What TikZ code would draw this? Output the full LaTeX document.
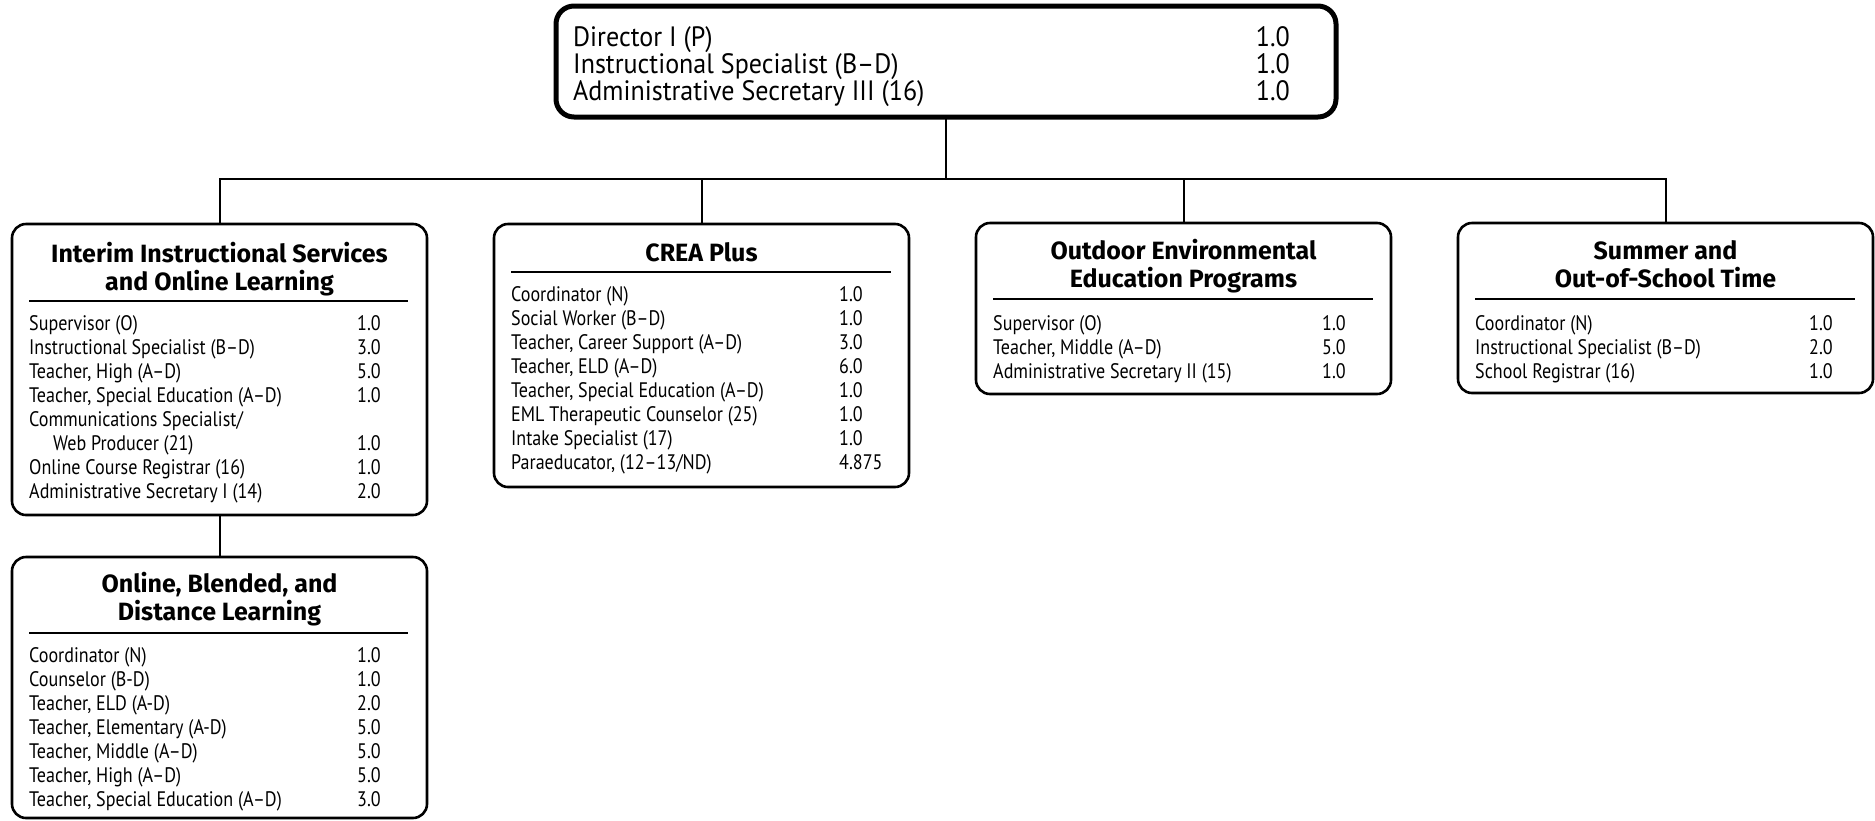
\documentclass[tikz,border=0pt]{standalone}
\usepackage{fontspec}
\newfontfamily\bodyfont{PT Sans}[FakeStretch=0.86]
\newfontfamily\titlefont{Fira Sans}[FakeStretch=1.0]
\newfontfamily\topfont{PT Sans}[FakeStretch=0.93]
\newcommand{\staffrow}[6]{%
  \node[body] (#1) at (#2,#4) {#5};
  \node[body] (#1n) at (#3,#4) {#6};}
\begin{document}
\begin{tikzpicture}[x=1pt,y=-1pt,
  unitbox/.style={draw=black, line width=2.6pt, rounded corners=14pt, minimum width=415pt, anchor=north west, inner sep=0pt, outer sep=0pt},
  headbox/.style={draw=black, line width=5pt, rounded corners=18pt, minimum width=780pt, minimum height=111pt, anchor=north west, inner sep=0pt, outer sep=0pt},
  body/.style={anchor=base west, inner sep=0pt, font=\bodyfont\fontsize{21}{24}\selectfont},
  title/.style={anchor=base, inner sep=0pt, font=\titlefont\bfseries\fontsize{25}{28}\selectfont},
  toptext/.style={anchor=base west, inner sep=0pt, font=\topfont\fontsize{28}{27}\selectfont},
  topnum/.style={toptext, anchor=base east},
  rule/.style={line width=1.4pt},
  link/.style={line width=2pt}]
\useasboundingbox (0,0) rectangle (1875,820);
% boxes
\node[headbox] (top) at (556,6) {};
\node[unitbox, minimum height=291pt] (b1) at (12,224) {};
\node[unitbox, minimum height=263pt] (b2) at (494,224) {};
\node[unitbox, minimum height=171pt] (b3) at (976,223) {};
\node[unitbox, minimum height=170pt] (b4) at (1458,223) {};
\node[unitbox, minimum height=261pt] (b5) at (12,557) {};
% connectors
\coordinate (bus) at (946,179);
\draw[link] (top.south) -- (top.south |- bus);
\draw[link] (b1.north) -- (b1.north |- bus) -- (b4.north |- bus) -- (b4.north);
\draw[link] (b2.north) -- (b2.north |- bus);
\draw[link] (b3.north) -- (b3.north |- bus);
\draw[link] (b1.south) -- (b5.north);
% top box text
\node[toptext] (t1) at (573,46) {Director I (P)};
\node[topnum] (t1n) at (1290,46) {1.0};
\node[toptext] (t2) at (573,73) {Instructional Specialist (B–D)};
\node[topnum] (t2n) at (1290,73) {1.0};
\node[toptext] (t3) at (573,100) {Administrative Secretary III (16)};
\node[topnum] (t3n) at (1290,100) {1.0};
% box 1
\node[title] (b1h1) at (219.5,262) {Interim Instructional Services};
\node[title] (b1h2) at (219.5,290) {and Online Learning};
\draw[rule] (29,301) -- (408,301);
\staffrow{b1r1}{29}{357}{330}{Supervisor (O)}{1.0}
\staffrow{b1r2}{29}{357}{354}{Instructional Specialist (B–D)}{3.0}
\staffrow{b1r3}{29}{357}{378}{Teacher, High (A–D)}{5.0}
\staffrow{b1r4}{29}{357}{402}{Teacher, Special Education (A–D)}{1.0}
\node[body] (b1r5) at (29,426) {Communications Specialist/};
\staffrow{b1r6}{53}{357}{450}{Web Producer (21)}{1.0}
\staffrow{b1r7}{29}{357}{474}{Online Course Registrar (16)}{1.0}
\staffrow{b1r8}{29}{357}{498}{Administrative Secretary I (14)}{2.0}
% box 2
\node[title] (b2h1) at (701.5,261) {CREA Plus};
\draw[rule] (511,272) -- (891,272);
\staffrow{b2r1}{511}{839}{301}{Coordinator (N)}{1.0}
\staffrow{b2r2}{511}{839}{325}{Social Worker (B–D)}{1.0}
\staffrow{b2r3}{511}{839}{349}{Teacher, Career Support (A–D)}{3.0}
\staffrow{b2r4}{511}{839}{373}{Teacher, ELD (A–D)}{6.0}
\staffrow{b2r5}{511}{839}{397}{Teacher, Special Education (A–D)}{1.0}
\staffrow{b2r6}{511}{839}{421}{EML Therapeutic Counselor (25)}{1.0}
\staffrow{b2r7}{511}{839}{445}{Intake Specialist (17)}{1.0}
\staffrow{b2r8}{511}{839}{469}{Paraeducator, (12–13/ND)}{4.875}
% box 3
\node[title] (b3h1) at (1183.5,259) {Outdoor Environmental};
\node[title] (b3h2) at (1183.5,287) {Education Programs};
\draw[rule] (993,299) -- (1373,299);
\staffrow{b3r1}{993}{1322}{330}{Supervisor (O)}{1.0}
\staffrow{b3r2}{993}{1322}{354}{Teacher, Middle (A–D)}{5.0}
\staffrow{b3r3}{993}{1322}{378}{Administrative Secretary II (15)}{1.0}
% box 4
\node[title] (b4h1) at (1665.5,259) {Summer and};
\node[title] (b4h2) at (1665.5,287) {Out-of-School Time};
\draw[rule] (1475,299) -- (1855,299);
\staffrow{b4r1}{1475}{1809}{330}{Coordinator (N)}{1.0}
\staffrow{b4r2}{1475}{1809}{354}{Instructional Specialist (B–D)}{2.0}
\staffrow{b4r3}{1475}{1809}{378}{School Registrar (16)}{1.0}
% box 5
\node[title] (b5h1) at (219.5,592) {Online, Blended, and};
\node[title] (b5h2) at (219.5,620) {Distance Learning};
\draw[rule] (29,633) -- (408,633);
\staffrow{b5r1}{29}{357}{662}{Coordinator (N)}{1.0}
\staffrow{b5r2}{29}{357}{686}{Counselor (B-D)}{1.0}
\staffrow{b5r3}{29}{357}{710}{Teacher, ELD (A-D)}{2.0}
\staffrow{b5r4}{29}{357}{734}{Teacher, Elementary (A-D)}{5.0}
\staffrow{b5r5}{29}{357}{758}{Teacher, Middle (A–D)}{5.0}
\staffrow{b5r6}{29}{357}{782}{Teacher, High (A–D)}{5.0}
\staffrow{b5r7}{29}{357}{806}{Teacher, Special Education (A–D)}{3.0}
\end{tikzpicture}
\end{document}
